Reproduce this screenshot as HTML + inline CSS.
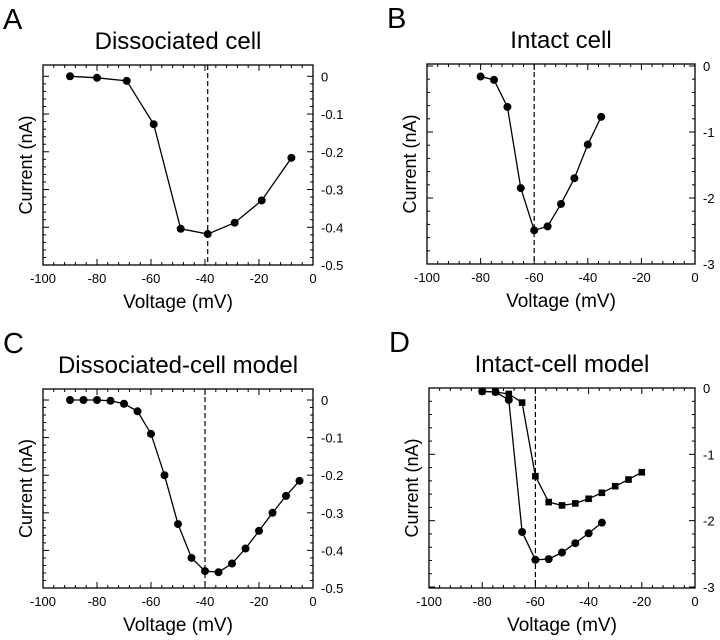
<!DOCTYPE html>
<html><head><meta charset="utf-8"><style>
body{margin:0;background:#fff}
svg{display:block;font-family:"Liberation Sans",Arial,sans-serif}
</style></head><body>
<svg id="fig" width="720" height="640" viewBox="0 0 720 640"></svg>
<script>
// Panel A data
const aVolt=[-90,-80,-69,-59,-49,-39,-29,-19,-8];
const aCurr=[0,-0.004,-0.012,-0.127,-0.404,-0.418,-0.388,-0.329,-0.216];
const aTicksY=[0,-0.1,-0.2,-0.3,-0.4,-0.5];
const aTickLabelsY=["0","-0.1","-0.2","-0.3","-0.4","-0.5"];
// Panel B data
const bVolt=[-80,-75,-70,-65,-60,-55,-50,-45,-40,-35];
const bCurr=[-0.16,-0.21,-0.62,-1.85,-2.49,-2.43,-2.09,-1.70,-1.19,-0.77];
const bTicksY=[0,-1,-2,-3];
const bTickLabelsY=["0","-1","-2","-3"];
// Panel C data
const cVolt=[-90,-85,-80,-75,-70,-65,-60,-55,-50,-45,-40,-35,-30,-25,-20,-15,-10,-5];
const cCurr=[0,0,0,-0.002,-0.01,-0.03,-0.09,-0.2,-0.33,-0.42,-0.455,-0.458,-0.435,-0.395,-0.348,-0.3,-0.255,-0.215];
// Panel D data
const dCircVolt=[-80,-75,-70,-65,-60,-55,-50,-45,-40,-35];
const dCircCurr=[-0.05,-0.06,-0.18,-2.17,-2.59,-2.58,-2.48,-2.34,-2.19,-2.03];
const dSqVolt=[-80,-75,-70,-65,-60,-55,-50,-45,-40,-35,-30,-25,-20];
const dSqCurr=[-0.05,-0.06,-0.09,-0.22,-1.33,-1.72,-1.77,-1.74,-1.67,-1.58,-1.48,-1.38,-1.27];
const xTicks=[-100,-80,-60,-40,-20,0];
const xTickLabels=["-100","-80","-60","-40","-20","0"];

const NS="http://www.w3.org/2000/svg";
const svg=document.getElementById('fig');
function mk(tag,attrs,parent,text){const e=document.createElementNS(NS,tag);for(const k in attrs)e.setAttribute(k,attrs[k]);if(text!==undefined)e.textContent=text;(parent||svg).appendChild(e);return e;}

function panel(p){
  const g=mk('g',{});
  
  
  const X=v=>p.x0+(v-(-100))/100*(p.x1-p.x0);
  const Y=v=>p.yz+(v/p.ymin)*(p.yb-p.yz);
  const L=mk('text',{x:p.x0-40,y:p.top-36,'font-size':29},g,p.letter);
  
  
  const T=mk('text',{x:(p.x0+p.x1)/2,y:p.top-16,'font-size':24,'text-anchor':'middle'},g,p.title);
  
  
  const fr=mk('rect',{x:p.x0,y:p.top,width:p.x1-p.x0,height:p.bot-p.top,fill:'none',stroke:'#000','stroke-width':1.3},g);
  
  
  for(let v=-100;v<=0;v+=4){const x=X(v);const len=(v%20===0)?6:3;
    mk('line',{x1:x,y1:p.bot,x2:x,y2:p.bot-len,stroke:'#000'},g);
    mk('line',{x1:x,y1:p.top,x2:x,y2:p.top+len,stroke:'#000'},g);}
  const ys=p.ticksY;const step=(ys[0]-ys[1])/5;
  for(let v=ys[0];v>=p.ymin-1e-9;v-=step){
    const y=Y(v);if(y<p.top-0.5||y>p.bot+0.5)continue;
    const major=Math.abs(Math.round(v/(step*5))*(step*5)-v)<1e-6;const len=major?6:3;
    mk('line',{x1:p.x0,y1:y,x2:p.x0+len,y2:y,stroke:'#000'},g);
    mk('line',{x1:p.x1,y1:y,x2:p.x1-len,y2:y,stroke:'#000'},g);}
  ys.forEach((v,i)=>{const t=mk('text',{x:p.x1+8,y:Y(v)+5,'font-size':13},g,p.labelsY[i]);
    
    });
  xTicks.forEach((v,i)=>{const t=mk('text',{x:X(v),y:p.bot+18,'font-size':13,'text-anchor':'middle'},g,xTickLabels[i]);
    
    });
  const xt=mk('text',{x:(p.x0+p.x1)/2,y:p.bot+43,'font-size':19,'text-anchor':'middle'},g,'Voltage (mV)');
  
  
  const cy=(p.top+p.bot)/2;
  const yt=mk('text',{x:p.x0-11,y:cy,'font-size':18,'text-anchor':'middle',transform:`rotate(-90 ${p.x0-11} ${cy})`},g,'Current (nA)');
  
  
  const dl=mk('line',{x1:X(p.dash),y1:p.top,x2:X(p.dash),y2:p.bot,stroke:'#000','stroke-width':1.2,'stroke-dasharray':'5,3'},g);
  
  
  p.series.forEach(s=>{
    const pts=s.v.map((v,i)=>X(v)+','+Y(s.c[i])).join(' ');
    const pl=mk('polyline',{points:pts,fill:'none',stroke:'#000','stroke-width':1.3},g);
    
    
    s.v.forEach((v,i)=>{let m;
      if(s.sq)m=mk('rect',{x:X(v)-3.3,y:Y(s.c[i])-3.3,width:6.6,height:6.6,fill:'#000'},g);
      else m=mk('circle',{cx:X(v),cy:Y(s.c[i]),r:4,fill:'#000'},g);
      
      });
  });
}
panel({id:'a',letter:'A',title:'Dissociated cell',x0:43,x1:313,top:65,bot:265,yz:76.3,yb:265,ymin:-0.5,ticksY:aTicksY,labelsY:aTickLabelsY,dash:-39,
  series:[{v:aVolt,c:aCurr,name:'dissociated-cell'}]});
panel({id:'b',letter:'B',title:'Intact cell',x0:427,x1:695,top:64,bot:264,yz:66,yb:264,ymin:-3,ticksY:bTicksY,labelsY:bTickLabelsY,dash:-60,
  series:[{v:bVolt,c:bCurr,name:'intact-cell'}]});
panel({id:'c',letter:'C',title:'Dissociated-cell model',x0:43,x1:313,top:389,bot:588,yz:400,yb:588,ymin:-0.5,ticksY:aTicksY,labelsY:aTickLabelsY,dash:-40,
  series:[{v:cVolt,c:cCurr,name:'dissociated-model'}]});
panel({id:'d',letter:'D',title:'Intact-cell model',x0:429,x1:695,top:388,bot:588,yz:388,yb:587,ymin:-3,ticksY:bTicksY,labelsY:bTickLabelsY,dash:-60,
  series:[{v:dSqVolt,c:dSqCurr,name:'intact-model-squares',sq:true},{v:dCircVolt,c:dCircCurr,name:'intact-model-circles'}]});
</script>
</body></html>
